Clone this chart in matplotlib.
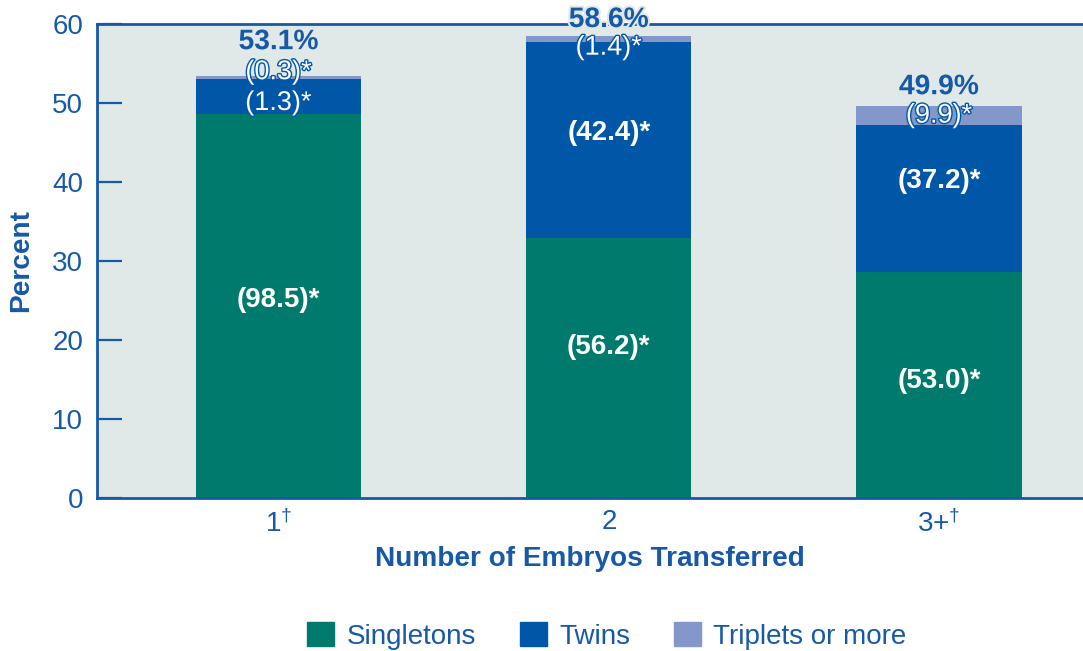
import numpy as np
import matplotlib
matplotlib.use('Agg')
import matplotlib.pyplot as plt
import matplotlib.patheffects as pe
from matplotlib.patches import Patch

plt.rcParams['font.family'] = ['Liberation Sans', 'DejaVu Sans']
plt.rcParams['mathtext.fontset'] = 'custom'
plt.rcParams['mathtext.rm'] = 'Liberation Sans'
plt.rcParams['mathtext.it'] = 'Liberation Sans'
plt.rcParams['mathtext.bf'] = 'Liberation Sans:bold'

# 数据
categories = ['1$^{†}$', '2', '3+$^{†}$']
singletons = [48.6, 32.9, 28.6]
twins = [4.4, 24.8, 18.6]
triplets = [0.4, 0.8, 2.4]

singleton_txt = ['(98.5)*', '(56.2)*', '(53.0)*']
twin_txt = ['(1.3)*', '(42.4)*', '(37.2)*']
triplet_txt = ['(0.3)*', '(1.4)*', '(9.9)*']
total_txt = ['53.1%', '58.6%', '49.9%']

# 标签位置
singleton_y = [25.1, 19.1, 14.8]
twin_y = [50.0, 46.2, 40.1]
triplet_y = [53.9, 57.0, 48.4]
total_y = [57.7, 60.5, 52.0]

c_single = '#007A6C'
c_twin = '#0057A7'
c_trip = '#8497CB'
c_bg = '#E0E9E8'
c_text = '#1659A8'

x = np.arange(len(categories))
s = np.array(singletons)
t = np.array(twins)
tr = np.array(triplets)

fig = plt.figure(figsize=(10.83, 6.51), dpi=100)
ax = fig.add_axes([97 / 1083, 1 - 498 / 651, 1 - 97 / 1083, (498 - 24) / 651])
ax.set_facecolor(c_bg)

w = 0.5
ax.bar(x, s, w, color=c_single, zorder=2)
ax.bar(x, t, w, bottom=s, color=c_twin, zorder=2)
ax.bar(x, tr, w, bottom=s + t, color=c_trip, zorder=2)

stroke = [pe.withStroke(linewidth=2, foreground=c_twin)]
for i in range(len(x)):
    ax.text(x[i], singleton_y[i], singleton_txt[i], ha='center', va='center',
            color='white', fontsize=20, fontweight='bold', zorder=5)
    if t[i] > 5:
        ax.text(x[i], twin_y[i], twin_txt[i], ha='center', va='center',
                color='white', fontsize=20, fontweight='bold', zorder=5)
    else:
        ax.text(x[i], twin_y[i], twin_txt[i], ha='center', va='center',
                color='white', fontsize=19.5, zorder=5, path_effects=stroke)
    ax.text(x[i], triplet_y[i], triplet_txt[i], ha='center', va='center',
            color='white', fontsize=19.5, zorder=5, path_effects=stroke)
    ax.text(x[i], total_y[i], total_txt[i], ha='center', va='center',
            color=c_text, fontsize=20.3, fontweight='bold', zorder=6, clip_on=False,
            path_effects=[pe.withStroke(linewidth=3, foreground=c_bg)])

ax.set_xlim(-0.55, 2.436)
ax.set_ylim(0, 60)
ax.set_yticks(np.arange(0, 61, 10))
ax.set_xticks(x)
ax.set_xticklabels(categories)

for side in ['left', 'top', 'bottom']:
    ax.spines[side].set_color(c_text)
    ax.spines[side].set_linewidth(2)
    ax.spines[side].set_zorder(4)
ax.spines['right'].set_visible(False)

ax.tick_params(axis='y', direction='in', length=18, width=1.6, color=c_text,
               labelcolor=c_text, labelsize=20, pad=10)
ax.tick_params(axis='x', length=0, labelcolor=c_text, labelsize=20, pad=8)

ax.set_xlabel('Number of Embryos Transferred', fontsize=20.2, fontweight='bold',
              color=c_text, labelpad=6)
ax.set_ylabel('Percent', fontsize=20.2, fontweight='bold', color=c_text, labelpad=13)

handles = [Patch(color=c_single, label='Singletons'),
           Patch(color=c_twin, label='Twins'),
           Patch(color=c_trip, label='Triplets or more')]
leg = fig.legend(handles=handles, loc='center', bbox_to_anchor=(607 / 1083, 1 - 636 / 651),
                 ncol=3, frameon=False, fontsize=20, handlelength=0.95, handleheight=0.95,
                 handletextpad=0.45, columnspacing=1.6)
for txt in leg.get_texts():
    txt.set_color(c_text)

fig.savefig('out.png', dpi=100)
